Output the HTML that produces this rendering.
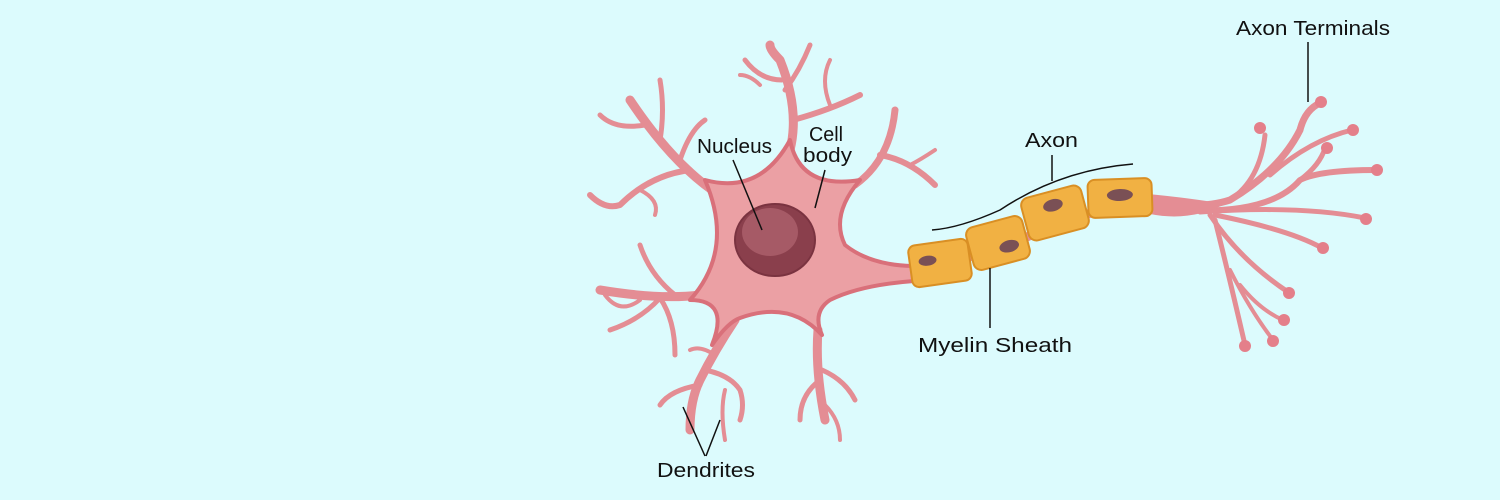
<!DOCTYPE html>
<html><head><meta charset="utf-8"><style>
html,body{margin:0;padding:0;background:#dcfbfd;}
svg{display:block}
text{font-family:"Liberation Sans",sans-serif;font-size:20px;fill:#111;}
</style></head><body>
<svg width="1500" height="500" viewBox="0 0 1500 500" xmlns="http://www.w3.org/2000/svg">
<rect width="1500" height="500" fill="#dcfbfd"/>
<g fill="none" stroke="#e48d94" stroke-linecap="round" stroke-linejoin="round">
 <path d="M712,190 Q670,160 630,100" stroke-width="9"/>
 <path d="M660,140 Q665,110 660,80" stroke-width="5"/>
 <path d="M645,125 Q615,130 600,115" stroke-width="5"/>
 <path d="M690,170 Q650,175 620,205 Q605,210 590,195" stroke-width="6"/>
 <path d="M640,190 Q660,200 655,215" stroke-width="4"/>
 <path d="M680,160 Q690,130 705,120" stroke-width="5"/>
 <path d="M790,150 Q800,110 780,60 Q770,50 770,45" stroke-width="9"/>
 <path d="M785,90 Q800,70 810,45" stroke-width="5"/>
 <path d="M782,80 Q760,80 745,60" stroke-width="5"/>
 <path d="M793,120 Q830,110 860,95" stroke-width="6"/>
 <path d="M830,105 Q820,80 830,60" stroke-width="4"/>
 <path d="M760,85 Q750,75 740,75" stroke-width="4"/>
 <path d="M855,185 Q890,160 895,110" stroke-width="7"/>
 <path d="M880,155 Q910,160 935,185" stroke-width="6"/>
 <path d="M910,165 Q920,160 935,150" stroke-width="4"/>
 <path d="M700,295 Q660,300 600,290" stroke-width="9"/>
 <path d="M660,298 Q640,320 610,330" stroke-width="5"/>
 <path d="M675,295 Q650,275 640,245" stroke-width="5"/>
 <path d="M640,300 Q620,315 605,295" stroke-width="4"/>
 <path d="M660,298 Q675,320 675,355" stroke-width="5"/>
 <path d="M735,320 Q715,350 700,380 Q690,400 690,430" stroke-width="9"/>
 <path d="M705,370 Q730,375 740,390 Q745,405 740,420" stroke-width="5"/>
 <path d="M700,385 Q670,390 660,405" stroke-width="5"/>
 <path d="M715,355 Q700,345 690,350" stroke-width="4"/>
 <path d="M725,390 Q720,410 725,440" stroke-width="4"/>
 <path d="M818,330 Q815,370 825,420" stroke-width="9"/>
 <path d="M820,380 Q800,395 800,420" stroke-width="5"/>
 <path d="M822,370 Q845,380 855,400" stroke-width="5"/>
 <path d="M825,405 Q840,420 840,440" stroke-width="4"/>
 <path d="M905,275 Q960,260 1010,245 Q1080,210 1150,200" stroke-width="9"/>
 <path d="M1150,202 Q1200,210 1230,200 Q1280,170 1300,130 Q1305,110 1320,103" stroke-width="7"/>
 <path d="M1230,200 Q1260,180 1265,135" stroke-width="5"/>
 <path d="M1270,175 Q1310,140 1352,130" stroke-width="5"/>
 <path d="M1180,210 Q1270,215 1300,180 Q1320,170 1376,170" stroke-width="6"/>
 <path d="M1300,180 Q1320,165 1325,148" stroke-width="5"/>
 <path d="M1200,212 Q1300,205 1365,218" stroke-width="5"/>
 <path d="M1215,215 Q1290,230 1322,248" stroke-width="5"/>
 <path d="M1210,215 Q1240,260 1288,292" stroke-width="5"/>
 <path d="M1215,220 Q1230,280 1245,345" stroke-width="5"/>
 <path d="M1230,270 Q1250,310 1273,340" stroke-width="4"/>
 <path d="M1240,285 Q1260,310 1283,320" stroke-width="4"/>
</g>
<path d="M1148,194 Q1190,198 1225,204 Q1190,222 1150,214 Z" fill="#e48d94"/>
<g fill="#e47f8a">
 <circle cx="1321" cy="102" r="6"/><circle cx="1260" cy="128" r="6"/><circle cx="1353" cy="130" r="6"/>
 <circle cx="1327" cy="148" r="6"/><circle cx="1377" cy="170" r="6"/><circle cx="1366" cy="219" r="6"/>
 <circle cx="1323" cy="248" r="6"/><circle cx="1289" cy="293" r="6"/><circle cx="1284" cy="320" r="6"/>
 <circle cx="1273" cy="341" r="6"/><circle cx="1245" cy="346" r="6"/>
</g>
<path d="M705,180 Q760,195 790,140 Q800,190 860,180 Q830,215 845,245 Q870,265 912,266 L914,281 Q860,285 830,300 Q812,312 822,335 Q790,300 740,318 Q728,322 712,345 Q730,300 690,300 Q735,250 705,180 Z" fill="#eba0a4" stroke="#d9707a" stroke-width="4" stroke-linejoin="round"/>
<ellipse cx="775" cy="240" rx="40" ry="36" fill="#8a3f4c" stroke="#7a3340" stroke-width="2"/>
<ellipse cx="770" cy="232" rx="28" ry="24" fill="#a65a66"/>
<g stroke="#d98f24" stroke-width="2">
 <g transform="translate(940,263) rotate(-8)"><rect x="-30" y="-21" width="60" height="42" rx="7" fill="#f1b143"/><ellipse cx="-12" cy="-4" rx="9" ry="5" fill="#7a5055" stroke="none"/></g>
 <g transform="translate(998,243) rotate(-15)"><rect x="-29" y="-22" width="58" height="44" rx="8" fill="#f1b143"/><ellipse cx="10" cy="6" rx="10" ry="6" fill="#7a5055" stroke="none"/></g>
 <g transform="translate(1055,213) rotate(-15)"><rect x="-31" y="-22" width="62" height="44" rx="8" fill="#f1b143"/><ellipse cx="0" cy="-8" rx="10" ry="6" fill="#7a5055" stroke="none"/></g>
 <g transform="translate(1120,198) rotate(-2)"><rect x="-32" y="-19" width="64" height="38" rx="7" fill="#f1b143"/><ellipse cx="0" cy="-3" rx="13" ry="6" fill="#7a5055" stroke="none"/></g>
</g>
<g stroke="#111" stroke-width="1.5" fill="none">
 <line x1="733" y1="160" x2="762" y2="230"/>
 <line x1="825" y1="170" x2="815" y2="208"/>
 <line x1="1052" y1="155" x2="1052" y2="181"/>
 <path d="M932,230 Q960,228 1000,210 Q1060,170 1133,164"/>
 <line x1="1308" y1="42" x2="1308" y2="102"/>
 <line x1="990" y1="268" x2="990" y2="328"/>
 <line x1="683" y1="407" x2="705" y2="456"/>
 <line x1="720" y1="420" x2="706" y2="456"/>
</g>
<text x="697" y="153" font-size="17" textLength="75" lengthAdjust="spacingAndGlyphs">Nucleus</text>
<text x="809" y="141" font-size="17" textLength="34" lengthAdjust="spacingAndGlyphs">Cell</text>
<text x="803" y="162" font-size="17" textLength="49" lengthAdjust="spacingAndGlyphs">body</text>
<text x="1025" y="147" textLength="53" lengthAdjust="spacingAndGlyphs">Axon</text>
<text x="1236" y="35" textLength="154" lengthAdjust="spacingAndGlyphs">Axon Terminals</text>
<text x="918" y="352" textLength="154" lengthAdjust="spacingAndGlyphs">Myelin Sheath</text>
<text x="657" y="477" textLength="98" lengthAdjust="spacingAndGlyphs">Dendrites</text>
</svg>
</body></html>
